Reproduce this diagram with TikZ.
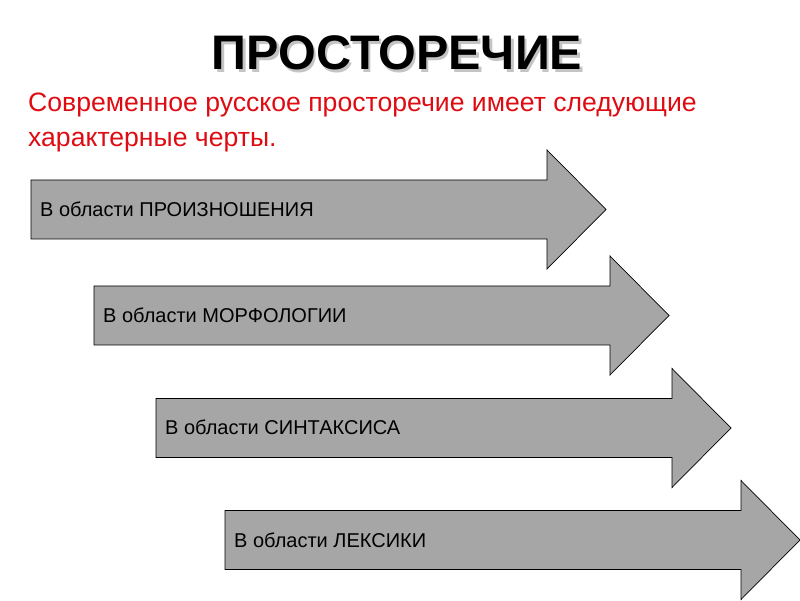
\documentclass[tikz,border=0pt]{standalone}
\usepackage{fontspec}
\setmainfont{Liberation Sans}

\definecolor{arrowgray}{RGB}{166,166,166}
\definecolor{leadred}{RGB}{222,12,18}
\definecolor{shadowgray}{RGB}{196,196,196}

\tikzset{
  arrowbox/.style={draw=black, fill=arrowgray, line width=0.7pt, line join=miter},
  arrowtext/.style={anchor=base west, inner sep=0pt, font=\fontsize{20}{24}\selectfont},
  leadtext/.style={anchor=base west, inner sep=0pt, text=leadred, font=\fontsize{26.6}{32}\selectfont},
  titletext/.style={anchor=base, inner sep=0pt, font=\fontsize{48.5}{54}\selectfont\bfseries}
}

\begin{document}
\begin{tikzpicture}[x=1pt,y=1pt]
\useasboundingbox (0,0) rectangle (800,600);

%--- Title with shadow ---
\node[titletext, text=shadowgray] (titleshadow) at (399.5,527) {ПРОСТОРЕЧИЕ};
\node[titletext] (title) at (397,530) {ПРОСТОРЕЧИЕ};

%--- Lead text ---
\node[leadtext] (lead1) at (28,488) {Современное русское просторечие имеет следующие};
\node[leadtext] (lead2) at (28,453) {характерные черты.};

%--- Arrows: left x / body centre y / label ---
\foreach \ax/\ay/\txt/\nm in {31/390.5/ПРОИЗНОШЕНИЯ/pron,
                             94/284.5/МОРФОЛОГИИ/morph,
                             156/172/СИНТАКСИСА/synt,
                             225/60/ЛЕКСИКИ/lex}{
  \begin{scope}[shift={(\ax,\ay)}]
    % arrow shape
    \draw[arrowbox] (0,-29.5) -- (0,29.5) -- (516,29.5) -- (516,59.5)
      -- (575,0) -- (516,-59.5) -- (516,-29.5) -- cycle;
    % label
    \node[arrowtext] (\nm) at (9,-7) {В области \txt};
  \end{scope}
}

\end{tikzpicture}
\end{document}
